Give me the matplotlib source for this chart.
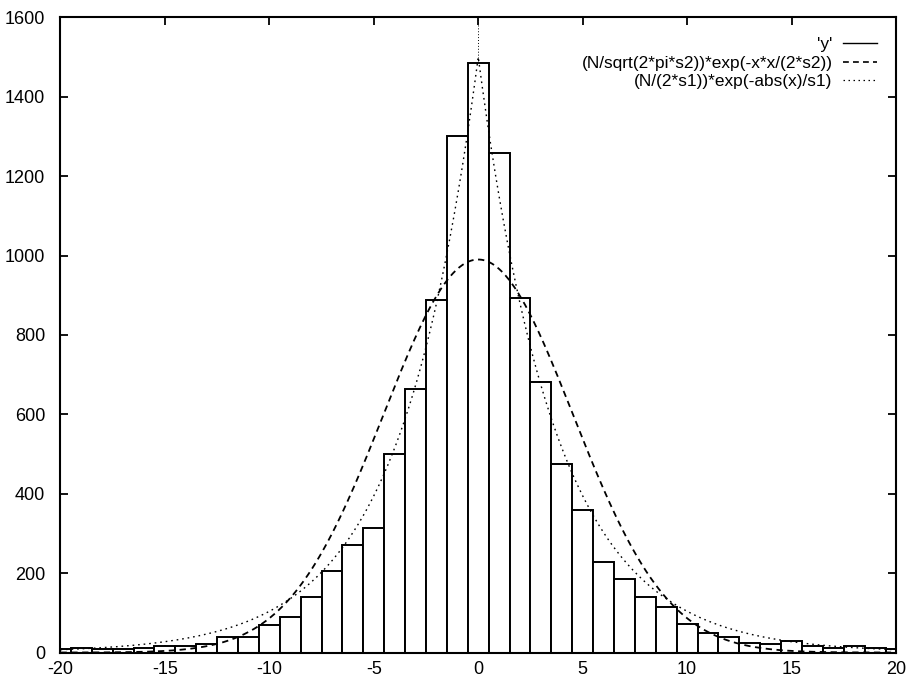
import numpy as np
import matplotlib
matplotlib.use("Agg")
import matplotlib.pyplot as plt
from matplotlib.lines import Line2D

plt.rcParams['font.family'] = ['Liberation Sans', 'DejaVu Sans']

# histogram bins (unit width, centred on integers) and counts
bin_centers = list(range(-20, 21))
counts = [8, 11, 9, 8, 11, 17, 17, 22, 40, 38,
          70, 90, 141, 205, 270, 314, 499, 664, 889, 1300,
          1485,
          1258, 893, 681, 474, 359, 228, 185, 141, 114, 73,
          48, 39, 25, 22, 30, 17, 11, 16, 11, 9]

# fitted parameters
N = 11235.0
s1 = 3.745
s2 = 20.5

x_ticks = [-20, -15, -10, -5, 0, 5, 10, 15, 20]
y_ticks = [0, 200, 400, 600, 800, 1000, 1200, 1400, 1600]

legend_labels = ["'y'",
                 "(N/sqrt(2*pi*s2))*exp(-x*x/(2*s2))",
                 "(N/(2*s1))*exp(-abs(x)/s1)"]

fig = plt.figure(figsize=(9.08, 6.84), dpi=100)
ax = fig.add_axes([0.0666, 0.046, 0.9202, 0.9287])

ax.bar(bin_centers, counts, width=1.0, align='center',
       facecolor='white', edgecolor='black', linewidth=1.4, zorder=2)

xs = np.linspace(-20, 20, 801)
gauss = (N / np.sqrt(2 * np.pi * s2)) * np.exp(-xs * xs / (2 * s2))
laplace = (N / (2 * s1)) * np.exp(-np.abs(xs) / s1)

gauss_style = (0, (3.5, 2.5))
laplace_style = (0, (1.2, 2.8))
ax.plot(xs, gauss, color='black', linewidth=1.3, linestyle=gauss_style, zorder=3)
ax.plot(xs, laplace, color='black', linewidth=1.0, linestyle=laplace_style, zorder=3)

# zero axis
ax.axvline(0, color='black', linewidth=0.7, linestyle=(0, (1, 2)), zorder=1)

ax.set_xlim(-20, 20)
ax.set_ylim(0, 1600)
ax.set_xticks(x_ticks)
ax.set_yticks(y_ticks)
ax.set_xticklabels([str(t) for t in x_ticks])
ax.set_yticklabels([str(t) for t in y_ticks])
ax.tick_params(axis='both', direction='in', length=6, width=1.3,
               top=True, right=True, labelsize=13)
ax.tick_params(axis='x', pad=6)
ax.tick_params(axis='y', pad=11)
for sp in ax.spines.values():
    sp.set_linewidth(1.5)

# key: right-aligned text with the sample line to its right
handles = [Line2D([], [], color='black', linewidth=1.0),
           Line2D([], [], color='black', linewidth=1.2, linestyle=gauss_style),
           Line2D([], [], color='black', linewidth=0.9, linestyle=laplace_style)]
ax.legend(handles, legend_labels, loc='upper right', frameon=False,
          markerfirst=False, fontsize=12.4, handlelength=2.0,
          handletextpad=0.6, labelspacing=0.2,
          borderaxespad=0.3, bbox_to_anchor=(0.992, 0.988))

fig.savefig('out.png', dpi=100)
